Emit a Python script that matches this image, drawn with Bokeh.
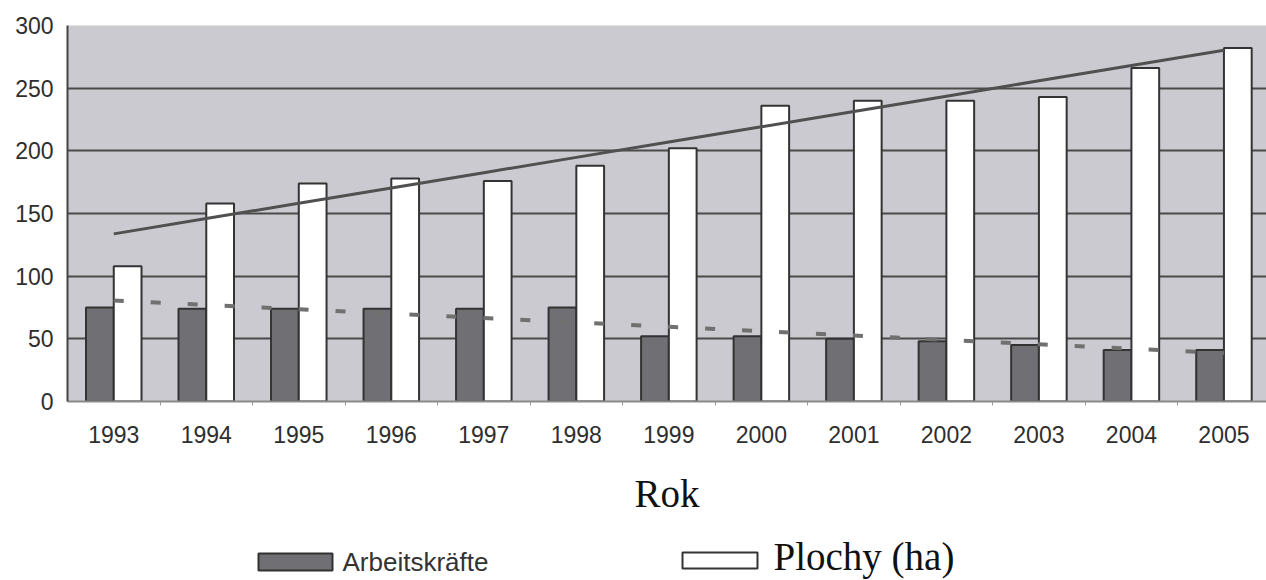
import numpy as np
from bokeh.plotting import figure
from bokeh.layouts import column
from bokeh.models import FixedTicker, ColumnDataSource
from bokeh.core.properties import value
from bokeh.embed import file_html
from bokeh.resources import INLINE

# ---- data ----
years = [1993, 1994, 1995, 1996, 1997, 1998, 1999, 2000, 2001, 2002, 2003, 2004, 2005]
arbeitskraefte = [75, 74, 74, 74, 74, 75, 52, 52, 50, 48, 45, 41, 41]
plochy = [108, 158, 174, 178, 176, 188, 202, 236, 240, 240, 243, 266, 282]
y_ticks = [0, 50, 100, 150, 200, 250, 300]

# linear trends (least squares, as in the original spreadsheet)
idx = np.arange(len(years))
ka, kb = np.polyfit(idx, arbeitskraefte, 1)
pa, pb = np.polyfit(idx, plochy, 1)
trend_a = ka * idx + kb
trend_p = pa * idx + pb

yrs = np.array(years, dtype=float)
src = ColumnDataSource(dict(
    xa=yrs - 0.15, xp=yrs + 0.15,
    a=arbeitskraefte, p=plochy,
    x=yrs, ta=trend_a, tp=trend_p,
))

W = 1266
p = figure(width=W, height=517, output_backend="svg", toolbar_location=None,
           x_range=(1992.5, 2005.46), y_range=(0, 300),
           min_border_left=67, min_border_top=25, min_border_right=0,
           min_border_bottom=115)
p.background_fill_color = "#cacad0"
p.border_fill_color = "white"
p.outline_line_color = None

p.vbar(x="xa", top="a", width=0.3, bottom=0, source=src,
       fill_color="#6f6f74", line_color="#333333", line_width=2)
p.vbar(x="xp", top="p", width=0.3, bottom=0, source=src,
       fill_color="white", line_color="#333333", line_width=2)

p.line(x="x", y="tp", source=src, line_color="#505050", line_width=3)
p.line(x="x", y="ta", source=src, line_color="#707070", line_width=4,
       line_dash="10 27")

# grid
p.xgrid.grid_line_color = None
p.ygrid.ticker = FixedTicker(ticks=y_ticks)
p.ygrid.grid_line_color = "#4a4a4a"
p.ygrid.grid_line_width = 2

# y axis
p.yaxis.ticker = FixedTicker(ticks=y_ticks)
p.yaxis.axis_line_color = "#444444"
p.yaxis.axis_line_width = 2
p.yaxis.major_tick_out = 0
p.yaxis.major_tick_in = 0
p.yaxis.minor_tick_line_color = None
p.yaxis.major_label_standoff = 14
p.yaxis.major_label_text_font = "Liberation Sans"
p.yaxis.major_label_text_font_size = "23px"
p.yaxis.major_label_text_color = "#2e2e2e"

# x axis
p.xaxis.ticker = FixedTicker(ticks=years,
                             minor_ticks=[y + 0.5 for y in years[:-1]])
p.xaxis.major_label_overrides = {y: str(y) for y in years}
p.xaxis.axis_line_color = "#8a8a8a"
p.xaxis.axis_line_width = 2
p.xaxis.major_tick_line_color = None
p.xaxis.minor_tick_line_color = "#999999"
p.xaxis.minor_tick_out = 4
p.xaxis.minor_tick_in = 0
p.xaxis.major_tick_out = 0
p.xaxis.major_label_standoff = 20
p.xaxis.major_label_text_font = "Liberation Sans"
p.xaxis.major_label_text_font_size = "23px"
p.xaxis.major_label_text_color = "#2e2e2e"
p.xaxis.axis_label = "Rok"
p.xaxis.axis_label_text_font = "Liberation Serif"
p.xaxis.axis_label_text_font_style = "normal"
p.xaxis.axis_label_text_font_size = "39px"
p.xaxis.axis_label_text_color = "#111111"
p.xaxis.axis_label_standoff = 26

# ---- legend row (coordinates in page pixels) ----
H2 = 63
q = figure(width=W, height=H2, output_backend="svg", toolbar_location=None,
           x_range=(67, W), y_range=(0, H2),
           x_axis_location=None, y_axis_location=None,
           min_border_left=67, min_border_right=0,
           min_border_top=0, min_border_bottom=0)
q.grid.visible = False
q.outline_line_color = None
q.background_fill_color = "white"
q.border_fill_color = "white"

q.rect(x=[295], y=[18.5], width=74, height=17, fill_color="#6f6f74",
       line_color="#333333", line_width=2)
q.rect(x=[719.5], y=[20], width=75, height=16, fill_color="white",
       line_color="#333333", line_width=2)
q.text(x=[342], y=[19], text=["Arbeitskräfte"], text_font=value("Liberation Sans"),
       text_font_size="26px", text_color="#333333", text_baseline="middle",
       text_align="left")
q.text(x=[773], y=[24], text=["Plochy (ha)"], text_font=value("Liberation Serif"),
       text_font_size="39px", text_color="#111111", text_baseline="middle",
       text_align="left")

layout = column(p, q, spacing=0)
open("out.html", "w").write(file_html(layout, INLINE))
